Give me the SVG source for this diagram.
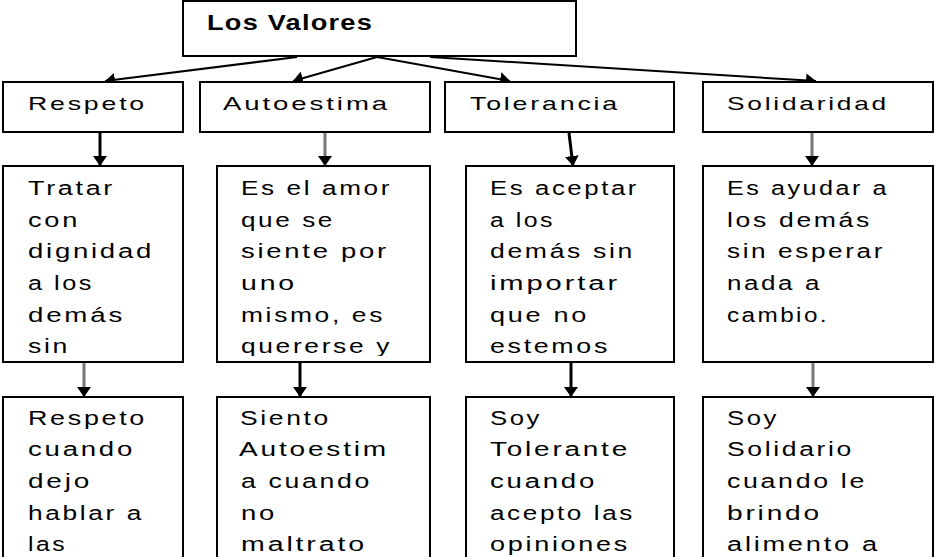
<svg xmlns="http://www.w3.org/2000/svg" width="947" height="557" viewBox="0 0 947 557">
<style>
.box{fill:#fff;stroke:#000;stroke-width:2}
.t{font-family:"Liberation Sans",Arial,sans-serif;font-size:20px;fill:#000;letter-spacing:2px}
.h{font-family:"Liberation Sans",Arial,sans-serif;font-size:19px;fill:#000;letter-spacing:2px}
.title{font-family:"Liberation Sans",Arial,sans-serif;font-size:22px;font-weight:bold;fill:#000;letter-spacing:1px}
.c{fill:none;stroke:#000;stroke-width:2;marker-end:url(#ah)}
.v{stroke-width:3}
.g{stroke:#777}
</style>
<defs>
<marker id="ah" viewBox="0 0 10 14" refX="10" refY="7" markerWidth="10" markerHeight="14" markerUnits="userSpaceOnUse" orient="auto">
<path d="M0,0 L10,7 L0,14 z" fill="#000"/>
</marker>
<marker id="av" viewBox="0 0 10 16" refX="10" refY="8" markerWidth="10" markerHeight="16" markerUnits="userSpaceOnUse" orient="auto">
<path d="M0,0 L10,8 L0,16 z" fill="#000"/>
</marker>
<clipPath id="clipA"><rect x="217" y="166" width="213" height="190"/></clipPath>
</defs>
<rect width="947" height="557" fill="#fff"/>

<g id="connectors">
<path class="c" d="M297,57 L105,81"/>
<path class="c" d="M377,57 L293,81"/>
<path class="c" d="M377,57 L510,81"/>
<path class="c" d="M430,57 L816,81"/>
<path class="c v" marker-end="url(#av)" d="M100,133 L100,166"/>
<path class="c v g" marker-end="url(#av)" d="M325,133 L325,166"/>
<path class="c v" marker-end="url(#av)" d="M569,133 L573,166"/>
<path class="c v g" marker-end="url(#av)" d="M812,133 L812,166"/>
<path class="c v g" marker-end="url(#av)" d="M84,363 L84,397"/>
<path class="c v" marker-end="url(#av)" d="M300,363 L300,397"/>
<path class="c v" marker-end="url(#av)" d="M571,363 L571,397"/>
<path class="c v g" marker-end="url(#av)" d="M813,363 L813,397"/>
</g>

<g id="title">
<rect class="box" x="183" y="1" width="393" height="55"/>
<text class="title" x="207" y="30" textLength="166" lengthAdjust="spacingAndGlyphs">Los Valores</text>
</g>

<g id="respeto">
<rect class="box" x="3" y="82" width="180" height="50"/>
<text class="h" x="28" y="110" textLength="119" lengthAdjust="spacingAndGlyphs">Respeto</text>
</g>
<g id="autoestima">
<rect class="box" x="200" y="82" width="230" height="50"/>
<text class="h" x="223" y="110" textLength="167" lengthAdjust="spacingAndGlyphs">Autoestima</text>
</g>
<g id="tolerancia">
<rect class="box" x="445" y="82" width="229" height="50"/>
<text class="h" x="470" y="110" textLength="150" lengthAdjust="spacingAndGlyphs">Tolerancia</text>
</g>
<g id="solidaridad">
<rect class="box" x="703" y="82" width="230" height="50"/>
<text class="h" x="727" y="110" textLength="162" lengthAdjust="spacingAndGlyphs">Solidaridad</text>
</g>

<g id="respeto-def">
<rect class="box" x="3" y="166" width="180" height="196"/>
<text class="t" x="28" y="195" textLength="87" lengthAdjust="spacingAndGlyphs">Tratar</text>
<text class="t" x="28" y="227" textLength="52" lengthAdjust="spacingAndGlyphs">con</text>
<text class="t" x="28" y="258" textLength="126" lengthAdjust="spacingAndGlyphs">dignidad</text>
<text class="t" x="28" y="290" textLength="66" lengthAdjust="spacingAndGlyphs">a los</text>
<text class="t" x="28" y="322" textLength="97" lengthAdjust="spacingAndGlyphs">demás</text>
<text class="t" x="28" y="353" textLength="42" lengthAdjust="spacingAndGlyphs">sin</text>
</g>
<g id="autoestima-def">
<rect class="box" x="217" y="166" width="213" height="196"/>
<g clip-path="url(#clipA)">
<text class="t" x="241" y="195" textLength="151" lengthAdjust="spacingAndGlyphs">Es el amor</text>
<text class="t" x="241" y="227" textLength="94" lengthAdjust="spacingAndGlyphs">que se</text>
<text class="t" x="241" y="258" textLength="148" lengthAdjust="spacingAndGlyphs">siente por</text>
<text class="t" x="241" y="290" textLength="56" lengthAdjust="spacingAndGlyphs">uno</text>
<text class="t" x="241" y="322" textLength="144" lengthAdjust="spacingAndGlyphs">mismo, es</text>
<text class="t" x="241" y="353" textLength="151" lengthAdjust="spacingAndGlyphs">quererse y</text>
</g>
</g>
<g id="tolerancia-def">
<rect class="box" x="466" y="166" width="208" height="196"/>
<text class="t" x="490" y="195" textLength="149" lengthAdjust="spacingAndGlyphs">Es aceptar</text>
<text class="t" x="490" y="227" textLength="65" lengthAdjust="spacingAndGlyphs">a los</text>
<text class="t" x="490" y="258" textLength="145" lengthAdjust="spacingAndGlyphs">demás sin</text>
<text class="t" x="490" y="290" textLength="130" lengthAdjust="spacingAndGlyphs">importar</text>
<text class="t" x="490" y="322" textLength="99" lengthAdjust="spacingAndGlyphs">que no</text>
<text class="t" x="490" y="353" textLength="120" lengthAdjust="spacingAndGlyphs">estemos</text>
</g>
<g id="solidaridad-def">
<rect class="box" x="703" y="166" width="230" height="196"/>
<text class="t" x="727" y="195" textLength="162" lengthAdjust="spacingAndGlyphs">Es ayudar a</text>
<text class="t" x="727" y="227" textLength="145" lengthAdjust="spacingAndGlyphs">los demás</text>
<text class="t" x="727" y="258" textLength="158" lengthAdjust="spacingAndGlyphs">sin esperar</text>
<text class="t" x="727" y="290" textLength="95" lengthAdjust="spacingAndGlyphs">nada a</text>
<text class="t" x="727" y="322" textLength="102" lengthAdjust="spacingAndGlyphs">cambio.</text>
</g>

<g id="respeto-ej">
<rect class="box" x="3" y="397" width="180" height="170"/>
<text class="t" x="28" y="425" textLength="119" lengthAdjust="spacingAndGlyphs">Respeto</text>
<text class="t" x="28" y="456" textLength="107" lengthAdjust="spacingAndGlyphs">cuando</text>
<text class="t" x="28" y="488" textLength="64" lengthAdjust="spacingAndGlyphs">dejo</text>
<text class="t" x="28" y="520" textLength="116" lengthAdjust="spacingAndGlyphs">hablar a</text>
<text class="t" x="28" y="551" textLength="39" lengthAdjust="spacingAndGlyphs">las</text>
</g>
<g id="autoestima-ej">
<rect class="box" x="217" y="397" width="213" height="170"/>
<text class="t" x="240" y="425" textLength="91" lengthAdjust="spacingAndGlyphs">Siento</text>
<text class="t" x="239" y="456" textLength="150" lengthAdjust="spacingAndGlyphs">Autoestim</text>
<text class="t" x="241" y="488" textLength="131" lengthAdjust="spacingAndGlyphs">a cuando</text>
<text class="t" x="241" y="520" textLength="36" lengthAdjust="spacingAndGlyphs">no</text>
<text class="t" x="241" y="551" textLength="126" lengthAdjust="spacingAndGlyphs">maltrato</text>
</g>
<g id="tolerancia-ej">
<rect class="box" x="466" y="397" width="208" height="170"/>
<text class="t" x="490" y="425" textLength="52" lengthAdjust="spacingAndGlyphs">Soy</text>
<text class="t" x="490" y="456" textLength="140" lengthAdjust="spacingAndGlyphs">Tolerante</text>
<text class="t" x="490" y="488" textLength="107" lengthAdjust="spacingAndGlyphs">cuando</text>
<text class="t" x="490" y="520" textLength="145" lengthAdjust="spacingAndGlyphs">acepto las</text>
<text class="t" x="490" y="551" textLength="140" lengthAdjust="spacingAndGlyphs">opiniones</text>
</g>
<g id="solidaridad-ej">
<rect class="box" x="703" y="397" width="230" height="170"/>
<text class="t" x="727" y="425" textLength="52" lengthAdjust="spacingAndGlyphs">Soy</text>
<text class="t" x="727" y="456" textLength="127" lengthAdjust="spacingAndGlyphs">Solidario</text>
<text class="t" x="727" y="488" textLength="140" lengthAdjust="spacingAndGlyphs">cuando le</text>
<text class="t" x="727" y="520" textLength="95" lengthAdjust="spacingAndGlyphs">brindo</text>
<text class="t" x="727" y="551" textLength="153" lengthAdjust="spacingAndGlyphs">alimento a</text>
</g>
</svg>
